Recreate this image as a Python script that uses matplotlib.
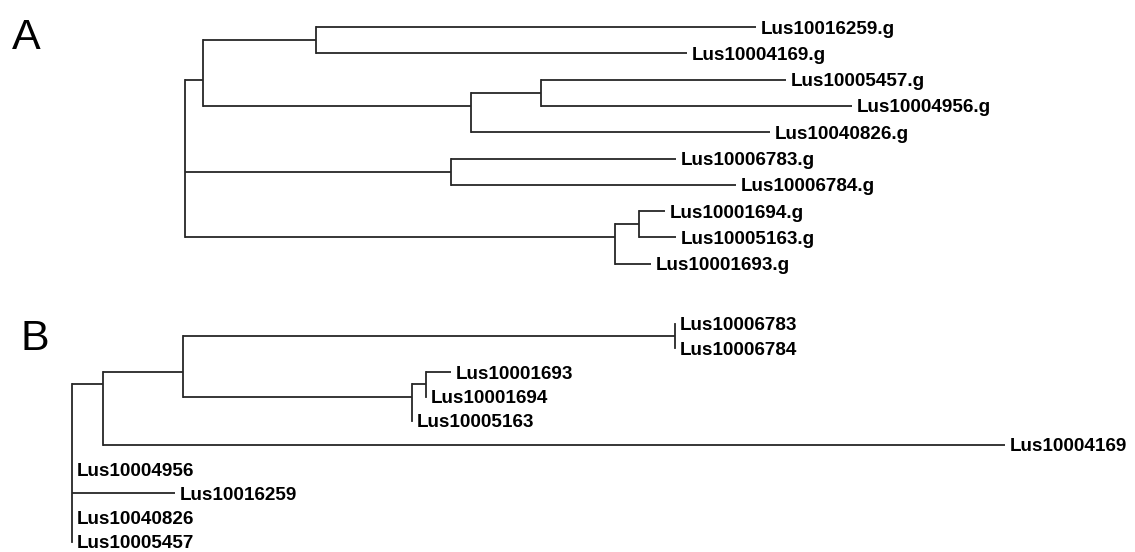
import matplotlib
matplotlib.use("Agg")
import matplotlib.pyplot as plt

##### DATA #####
# two gene trees, newick with branch lengths
TREE_A = ("(((Lus10016259.g:4.40,Lus10004169.g:3.71):1.13,"
          "((Lus10005457.g:2.45,Lus10004956.g:3.11):0.70,Lus10040826.g:2.99):2.68):0.18,"
          "(Lus10006783.g:2.25,Lus10006784.g:2.85):2.66,"
          "((Lus10001694.g:0.26,Lus10005163.g:0.37):0.24,Lus10001693.g:0.36):4.30);")
TREE_B = ("((((Lus10006783:0,Lus10006784:0):4.92,"
          "((Lus10001693:0.25,Lus10001694:0):0.14,Lus10005163:0):2.29):0.80,"
          "Lus10004169:9.02):0.31,"
          "Lus10004956:0,Lus10016259:1.03,Lus10040826:0,Lus10005457:0);")
PANEL_LABELS = ["A", "B"]

LINE_COLOR = "#262626"
LABEL_FONT = dict(family="Liberation Sans", weight="bold", size=13.6)


def parse_newick(s):
    s = s.strip().rstrip(";")
    pos = 0

    def node():
        nonlocal pos
        children = []
        if s[pos] == "(":
            pos += 1
            children.append(node())
            while s[pos] == ",":
                pos += 1
                children.append(node())
            pos += 1  # closing bracket
        start = pos
        while pos < len(s) and s[pos] not in ",():":
            pos += 1
        name = s[start:pos]
        length = 0.0
        if pos < len(s) and s[pos] == ":":
            pos += 1
            start = pos
            while pos < len(s) and s[pos] not in ",()":
                pos += 1
            length = float(s[start:pos])
        return {"name": name, "len": length, "children": children}

    return node()


def layout(tree):
    # x = distance from root, y = leaf order (internal node at mean of its leaves)
    count = [0]

    def walk(n, x0):
        n["x"] = x0 + n["len"]
        if not n["children"]:
            n["y"] = count[0]
            count[0] += 1
            return [n["y"]]
        idx = []
        for c in n["children"]:
            idx += walk(c, n["x"])
        n["y"] = sum(idx) / len(idx)
        return idx

    walk(tree, 0.0)
    return tree


def draw_tree(ax, n):
    if not n["children"]:
        ax.annotate(n["name"], (n["x"], n["y"]), xytext=(3.5, 0),
                    textcoords="offset points", ha="left", va="center_baseline",
                    **LABEL_FONT)
        return
    ys = [c["y"] for c in n["children"]]
    ax.plot([n["x"], n["x"]], [min(ys), max(ys)], color=LINE_COLOR, lw=1.3,
            solid_capstyle="projecting")
    for c in n["children"]:
        if c["len"] > 0:
            ax.plot([n["x"], c["x"]], [c["y"], c["y"]], color=LINE_COLOR, lw=1.3,
                    solid_capstyle="butt")
        draw_tree(ax, c)


##### MAIN PROGRAM #####
def main():
    fig = plt.figure(figsize=(11.35, 5.52), dpi=100)

    ax_a = fig.add_axes([0, 0.5, 1, 0.5])
    ax_a.set_xlim(-1.85, 9.50)
    ax_a.set_ylim(9.47, -1.03)
    ax_a.axis("off")
    draw_tree(ax_a, layout(parse_newick(TREE_A)))

    ax_b = fig.add_axes([0, 0, 1, 0.5])
    ax_b.set_xlim(-0.72, 10.63)
    ax_b.set_ylim(9.42, -1.98)
    ax_b.axis("off")
    draw_tree(ax_b, layout(parse_newick(TREE_B)))

    fig.text(12 / 1135, 1 - 49 / 552, PANEL_LABELS[0], family="Liberation Sans",
             size=31, ha="left", va="baseline")
    fig.text(20 / 1135, 1 - 350 / 552, PANEL_LABELS[1], family="Liberation Sans",
             size=31, ha="left", va="baseline")

    fig.savefig("out.png", dpi=100)


main()
